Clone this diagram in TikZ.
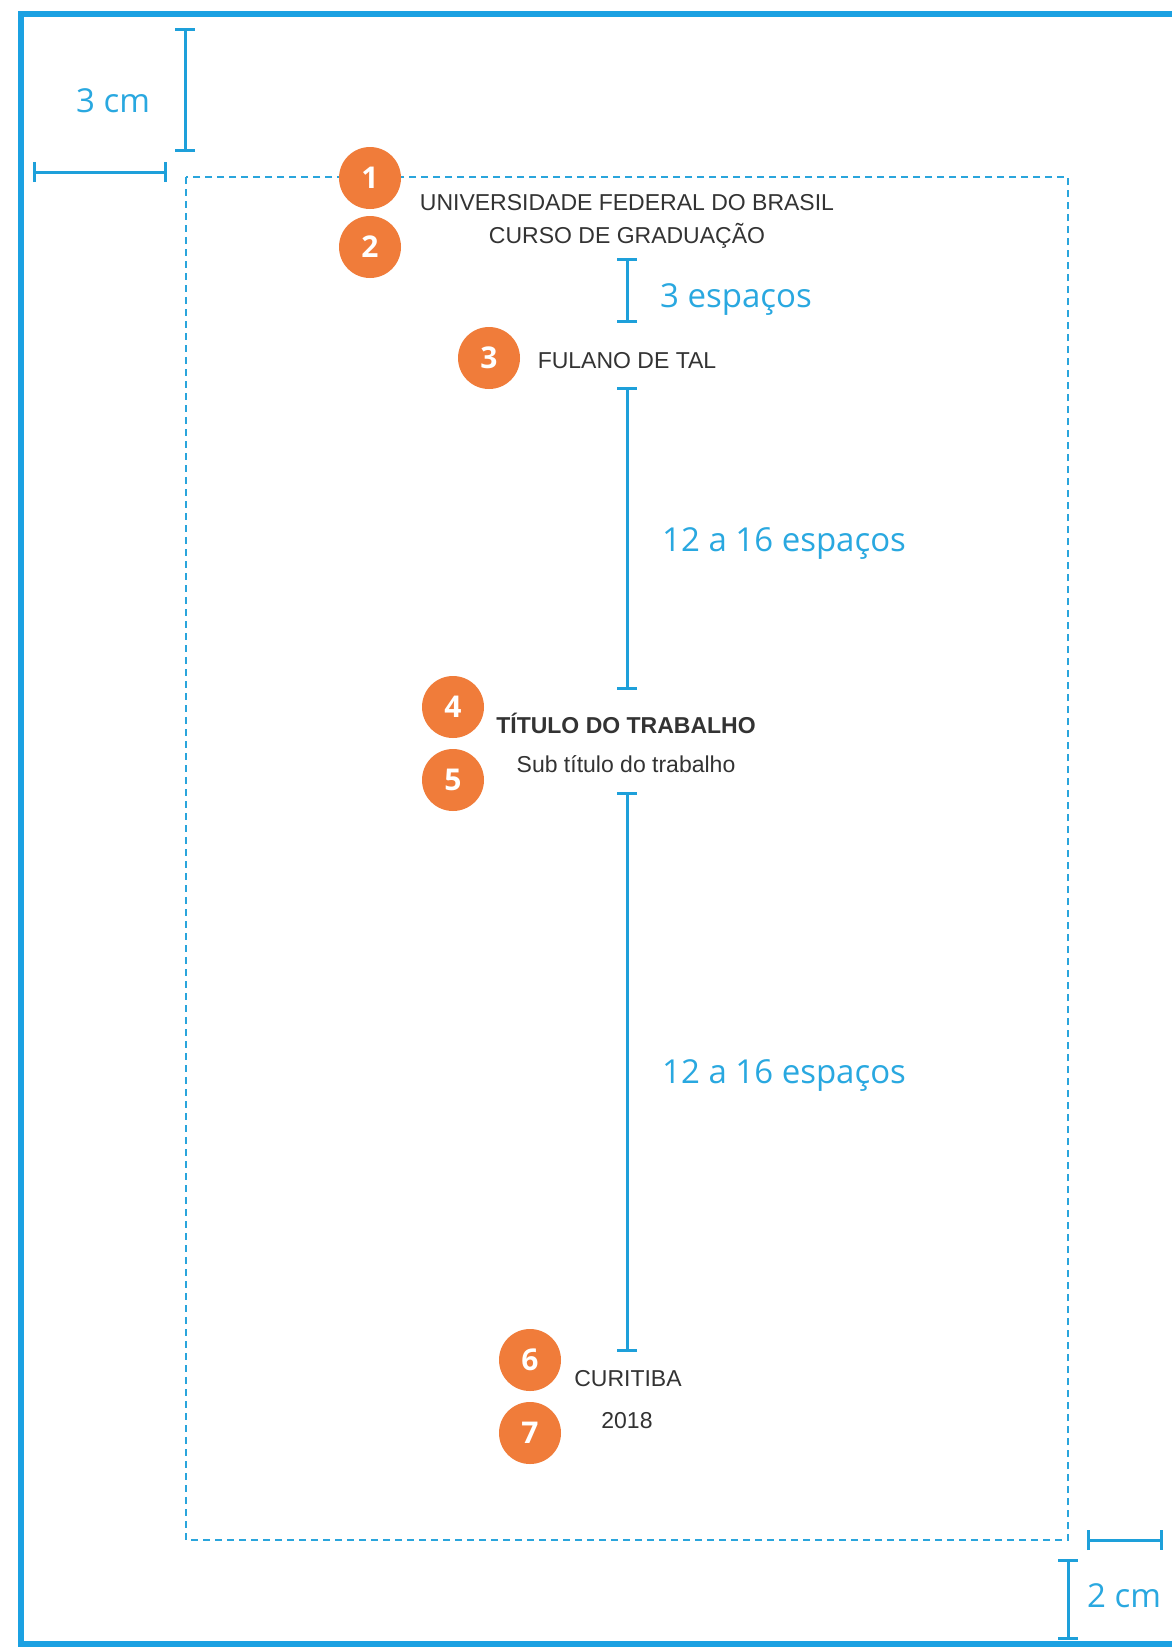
\documentclass[tikz,border=0pt]{standalone}
\usepackage{fontspec}
\setmainfont{Liberation Sans}
\newfontfamily\osans{Open Sans}
\usetikzlibrary{arrows.meta}
\definecolor{frameblue}{RGB}{27,161,226}
\definecolor{dimblue}{RGB}{30,160,218}
\definecolor{labblue}{RGB}{41,168,224}
\definecolor{dashblue}{RGB}{42,165,220}
\definecolor{badge}{RGB}{240,124,58}
\definecolor{ink}{RGB}{51,51,51}
\tikzset{
  dimline/.style={draw=dimblue, line width=3pt, arrows={Bar[width=20pt]-Bar[width=20pt]}},
  num/.style={circle, fill=badge, minimum size=62pt, inner sep=0pt, text=white,
              font=\osans\bfseries\fontsize{30}{30}\selectfont},
  doc/.style={anchor=base, inner sep=0pt, text=ink, font=\fontsize{23}{23}\selectfont},
  lab/.style={anchor=base west, inner sep=0pt, text=labblue, font=\osans\fontsize{33}{33}\selectfont}
}
\begin{document}
\begin{tikzpicture}[x=1pt, y=-1pt]
\useasboundingbox (0,0) rectangle (1172,1650);
\fill[white] (0,0) rectangle (1172,1650);
% outer page border
\draw[frameblue, line width=6pt] (1172,14) -- (21,14) -- (21,1644) -- (1172,1644);
% text area (dashed)
\draw[dashblue, line width=2.5pt, dash pattern=on 7pt off 5pt] (186,177) rectangle (1068,1540);
% margin dimensions
\coordinate (tv1) at (185,28);  \coordinate (tv2) at (185,152);
\coordinate (lh1) at (33,172);  \coordinate (lh2) at (167,172);
\coordinate (rh1) at (1087,1540); \coordinate (rh2) at (1163,1540);
\coordinate (bv1) at (1068,1559); \coordinate (bv2) at (1068,1640);
\draw[dimline] (tv1) -- (tv2);
\draw[dimline] (lh1) -- (lh2);
\draw[dimline] (rh1) -- (rh2);
\draw[dimline] (bv1) -- (bv2);
\node[lab] (m3) at (76,112) {3 cm};
\node[lab] (m2) at (1087,1607) {2 cm};
% spacing dimensions
\coordinate (s1a) at (627,258); \coordinate (s1b) at (627,323);
\coordinate (s2a) at (627,387); \coordinate (s2b) at (627,690);
\coordinate (s3a) at (627,792); \coordinate (s3b) at (627,1352);
\draw[dimline] (s1a) -- (s1b);
\draw[dimline] (s2a) -- (s2b);
\draw[dimline] (s3a) -- (s3b);
\node[lab] (e3) at (660,307) {3 espaços};
\node[lab] (e12a) at (662,551) {12 a 16 espaços};
\node[lab] (e12b) at (662,1083) {12 a 16 espaços};
% document texts
\node[doc] (t1) at (627,210) {UNIVERSIDADE FEDERAL DO BRASIL};
\node[doc] (t2) at (627,243) {CURSO DE GRADUAÇÃO};
\node[doc] (t3) at (627,368) {FULANO DE TAL};
\node[doc, font=\bfseries\fontsize{23}{23}\selectfont] (t4) at (626,733) {TÍTULO DO TRABALHO};
\node[doc] (t5) at (626,772) {Sub título do trabalho};
\node[doc] (t6) at (628,1386) {CURITIBA};
\node[doc] (t7) at (627,1428) {2018};
% numbered badges
\node[num] (n1) at (370,178) {1};
\node[num] (n2) at (370,247) {2};
\node[num] (n3) at (489,358) {3};
\node[num] (n4) at (453,707) {4};
\node[num] (n5) at (453,780) {5};
\node[num] (n6) at (530,1360) {6};
\node[num] (n7) at (530,1433) {7};
\end{tikzpicture}
\end{document}
